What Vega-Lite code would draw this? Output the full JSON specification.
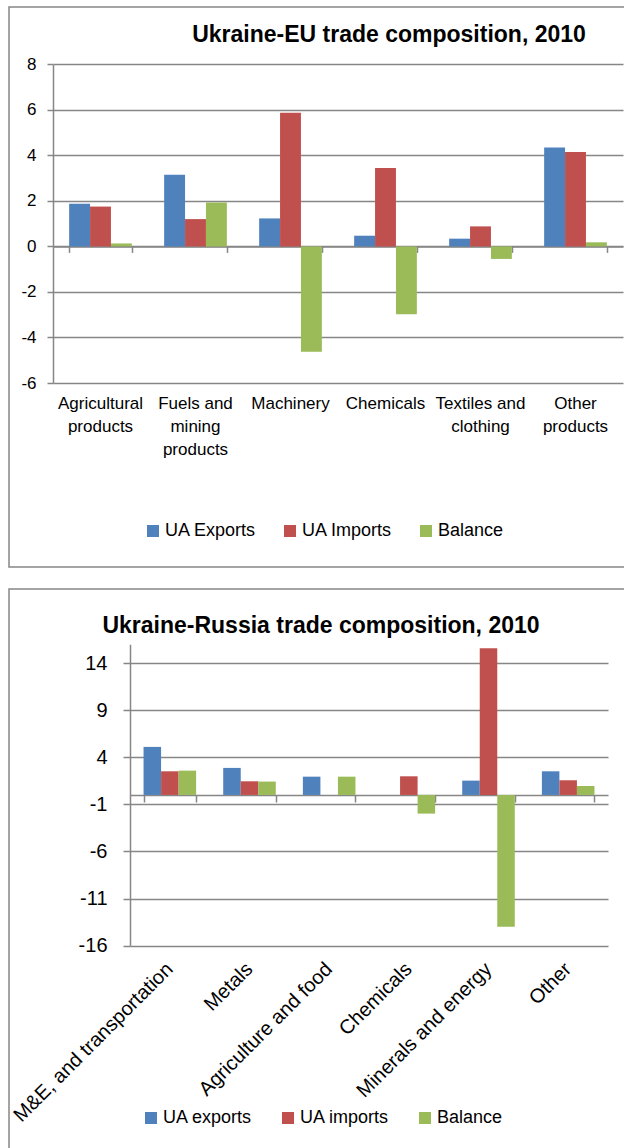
{
  "$schema": "https://vega.github.io/schema/vega-lite/v6.json",
  "padding": {"left": 8, "top": 6, "right": 0, "bottom": 0},
  "background": "white",
  "config": {
    "font": "Liberation Sans",
    "view": {"stroke": "#868686", "strokeWidth": 1.5},
    "axis": {"labelFont": "Liberation Sans", "labelColor": "black", "domainColor": "#868686", "domainWidth": 1.5, "tickColor": "#868686", "tickWidth": 1.5, "gridColor": "#868686", "gridWidth": 1.5, "title": null},
    "legend": {"labelFont": "Liberation Sans", "labelColor": "black"}
  },
  "datasets": {
    "eu": [
      {"category": "Agricultural products", "series": "UA Exports", "value": 1.87},
      {"category": "Agricultural products", "series": "UA Imports", "value": 1.75},
      {"category": "Agricultural products", "series": "Balance", "value": 0.13},
      {"category": "Fuels and mining products", "series": "UA Exports", "value": 3.15},
      {"category": "Fuels and mining products", "series": "UA Imports", "value": 1.2},
      {"category": "Fuels and mining products", "series": "Balance", "value": 1.93},
      {"category": "Machinery", "series": "UA Exports", "value": 1.23},
      {"category": "Machinery", "series": "UA Imports", "value": 5.87},
      {"category": "Machinery", "series": "Balance", "value": -4.63},
      {"category": "Chemicals", "series": "UA Exports", "value": 0.47},
      {"category": "Chemicals", "series": "UA Imports", "value": 3.45},
      {"category": "Chemicals", "series": "Balance", "value": -2.98},
      {"category": "Textiles and clothing", "series": "UA Exports", "value": 0.34},
      {"category": "Textiles and clothing", "series": "UA Imports", "value": 0.88},
      {"category": "Textiles and clothing", "series": "Balance", "value": -0.55},
      {"category": "Other products", "series": "UA Exports", "value": 4.34},
      {"category": "Other products", "series": "UA Imports", "value": 4.15},
      {"category": "Other products", "series": "Balance", "value": 0.18}
    ],
    "ru": [
      {"category": "M&E, and transportation", "series": "UA exports", "value": 5.1},
      {"category": "M&E, and transportation", "series": "UA imports", "value": 2.51},
      {"category": "M&E, and transportation", "series": "Balance", "value": 2.58},
      {"category": "Metals", "series": "UA exports", "value": 2.87},
      {"category": "Metals", "series": "UA imports", "value": 1.45},
      {"category": "Metals", "series": "Balance", "value": 1.42},
      {"category": "Agriculture and food", "series": "UA exports", "value": 1.94},
      {"category": "Agriculture and food", "series": "UA imports", "value": 0},
      {"category": "Agriculture and food", "series": "Balance", "value": 1.94},
      {"category": "Chemicals", "series": "UA exports", "value": 0},
      {"category": "Chemicals", "series": "UA imports", "value": 1.98},
      {"category": "Chemicals", "series": "Balance", "value": -1.98},
      {"category": "Minerals and energy", "series": "UA exports", "value": 1.52},
      {"category": "Minerals and energy", "series": "UA imports", "value": 15.56},
      {"category": "Minerals and energy", "series": "Balance", "value": -14.0},
      {"category": "Other", "series": "UA exports", "value": 2.51},
      {"category": "Other", "series": "UA imports", "value": 1.56},
      {"category": "Other", "series": "Balance", "value": 0.95}
    ]
  },
  "vconcat": [
    {
      "width": 620,
      "height": 560,
      "data": {"name": "eu"},
      "title": {"text": "Ukraine-EU trade composition, 2010", "anchor": "middle", "frame": "group", "offset": -40, "dx": 70, "fontSize": 23, "fontWeight": "bold", "font": "Liberation Sans", "color": "black"},
      "resolve": {"axis": {"x": "independent"}},
      "layer": [
        {
          "mark": {"type": "bar"},
          "encoding": {
            "x": {"field": "category", "type": "nominal", "sort": null,
              "scale": {"range": [44, 614], "paddingInner": 0.34, "paddingOuter": 0.17},
              "axis": {"orient": "bottom", "offset": -184, "domain": false, "ticks": false, "labelAngle": 0, "labelFontSize": 17, "labelPadding": 12, "labelLineHeight": 23, "labelBaseline": "top", "labelLimit": 200,
                "labelExpr": "datum.label == 'Agricultural products' ? ['Agricultural', 'products'] : datum.label == 'Fuels and mining products' ? ['Fuels and', 'mining', 'products'] : datum.label == 'Textiles and clothing' ? ['Textiles and', 'clothing'] : datum.label == 'Other products' ? ['Other', 'products'] : datum.label"}},
            "xOffset": {"field": "series", "type": "nominal", "sort": ["UA Exports", "UA Imports", "Balance"], "scale": {"paddingInner": 0, "paddingOuter": 0}},
            "y": {"field": "value", "type": "quantitative",
              "scale": {"domain": [-6, 8], "range": [376, 57.3], "nice": false, "zero": false},
              "axis": {"offset": -44, "values": [-6, -4, -2, 0, 2, 4, 6, 8], "grid": true, "tickSize": 6, "labelPadding": 11, "labelFontSize": 17, "labelExpr": "'' + datum.value"}},
            "color": {"field": "series", "type": "nominal",
              "scale": {"domain": ["UA Exports", "UA Imports", "Balance"], "range": ["#4F81BD", "#C0504D", "#9BBB59"]},
              "legend": {"orient": "none", "legendX": 135, "legendY": 515, "direction": "horizontal", "title": null, "symbolType": "square", "symbolSize": 144, "symbolStrokeWidth": 0, "labelFontSize": 18, "labelOffset": 3, "columnPadding": 24, "padding": 0}}
          }
        },
        {
          "mark": {"type": "point", "opacity": 0},
          "encoding": {
            "x": {"field": "category", "type": "nominal", "sort": null,
              "axis": {"orient": "bottom", "offset": -320.6, "labels": false, "domain": true, "ticks": true, "tickBand": "extent", "tickSize": 6, "grid": false}},
            "y": {"field": "value", "type": "quantitative"}
          }
        }
      ]
    },
    {
      "width": 620,
      "height": 575,
      "data": {"name": "ru"},
      "title": {"text": "Ukraine-Russia trade composition, 2010", "anchor": "middle", "frame": "group", "offset": -49, "dx": 2, "fontSize": 23, "fontWeight": "bold", "font": "Liberation Sans", "color": "black"},
      "resolve": {"axis": {"x": "independent"}},
      "layer": [
        {
          "mark": {"type": "bar"},
          "encoding": {
            "x": {"field": "category", "type": "nominal", "sort": null,
              "scale": {"range": [121, 599], "paddingInner": 0.34, "paddingOuter": 0.17},
              "axis": {"orient": "bottom", "offset": -218.3, "domain": false, "ticks": false, "labelAngle": -45, "labelAlign": "right", "labelBaseline": "middle", "labelFontSize": 20, "labelPadding": 20, "labelLimit": 300}},
            "xOffset": {"field": "series", "type": "nominal", "sort": ["UA exports", "UA imports", "Balance"], "scale": {"paddingInner": 0, "paddingOuter": 0}},
            "y": {"field": "value", "type": "quantitative",
              "scale": {"domain": [-16, 16], "range": [356.7, 55.2], "nice": false, "zero": false},
              "axis": {"offset": -121, "values": [-16, -11, -6, -1, 4, 9, 14], "grid": true, "tickSize": 7, "labelPadding": 16, "labelFontSize": 20, "labelExpr": "'' + datum.value"}},
            "color": {"field": "series", "type": "nominal",
              "scale": {"domain": ["UA exports", "UA imports", "Balance"], "range": ["#4F81BD", "#C0504D", "#9BBB59"]},
              "legend": {"orient": "none", "legendX": 133, "legendY": 520, "direction": "horizontal", "title": null, "symbolType": "square", "symbolSize": 144, "symbolStrokeWidth": 0, "labelFontSize": 18, "labelOffset": 3, "columnPadding": 26, "padding": 0}}
          }
        },
        {
          "mark": {"type": "point", "opacity": 0},
          "encoding": {
            "x": {"field": "category", "type": "nominal", "sort": null,
              "axis": {"orient": "bottom", "offset": -369, "labels": false, "domain": true, "ticks": true, "tickBand": "extent", "tickSize": 7, "grid": false}},
            "y": {"field": "value", "type": "quantitative"}
          }
        }
      ]
    }
  ],
  "spacing": 22,
  "bounds": "flush",
  "resolve": {"scale": {"x": "independent", "y": "independent", "color": "independent", "xOffset": "independent"}, "legend": {"color": "independent"}}
}
